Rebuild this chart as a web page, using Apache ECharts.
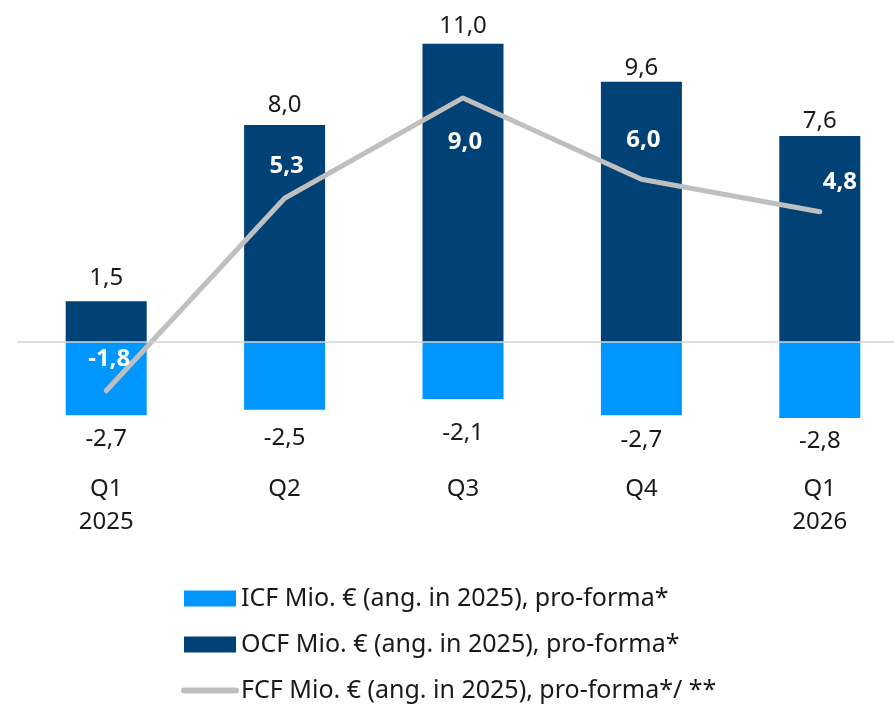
<!DOCTYPE html>
<html>
<head>
<meta charset="utf-8">
<script src="https://cdn.jsdelivr.net/npm/echarts@6/dist/echarts.min.js"></script>
<style>
  html, body { margin: 0; padding: 0; background: #fff; }
  #chart { width: 894px; height: 710px; }
</style>
</head>
<body>
<div id="chart"></div>
<script>
// quarters, two lines each
const categories = ['Q1\n2025', 'Q2', 'Q3', 'Q4', 'Q1\n2026']
const ocf = [1.5, 8.0, 11.0, 9.6, 7.6]
const icf = [-2.7, -2.5, -2.1, -2.7, -2.8]
const fcf = [-1.8, 5.3, 9.0, 6.0, 4.8]

// label placement tweaks, the source slide isn't uniform
const fcfLabelOffset = [[3, -32], [2, -32], [2, 44], [2, -39], [20, -30]]
const ocfLabelGap = [11, 8, 6, 1, 3]
const icfLabelGap = [12, 16, 22, 13, 11]

const FONT = '"Noto Sans", "Open Sans", sans-serif'
const TEXT = '#1a1a1a'
const fmt = v => v.toFixed(1).replace('.', ',')

const chart = echarts.init(document.getElementById('chart'))

chart.setOption({
    animation: false,
    textStyle: { fontFamily: FONT },
    grid: { left: 17, top: 3, right: -15, height: 461, outerBoundsMode: 'none' },
    legend: {
        orient: 'vertical',
        left: 181,
        top: 586,
        padding: 0,
        itemWidth: 52,
        itemHeight: 16,
        itemGap: 21,
        textStyle: { fontSize: 25, lineHeight: 25, color: TEXT, fontFamily: FONT },
        data: [
            { name: 'ICF Mio. € (ang. in 2025), pro-forma*', icon: 'rect' },
            { name: 'OCF Mio. € (ang. in 2025), pro-forma*', icon: 'rect' },
            {
                name: 'FCF Mio. € (ang. in 2025), pro-forma*/ **',
                itemStyle: { opacity: 0 },
                lineStyle: { width: 6, cap: 'round', color: '#bfbfbf' },
            },
        ],
    },
    xAxis: {
        type: 'category',
        data: categories,
        axisLine: { show: false, onZero: false },
        axisTick: { show: false },
        axisLabel: {
            margin: 9,
            fontSize: 24,
            lineHeight: 33,
            color: TEXT,
            fontFamily: FONT,
        },
    },
    yAxis: {
        type: 'value',
        min: -4.5,
        max: 12.5,
        show: false,
        splitLine: { show: false },
    },
    series: [
        {
            name: 'OCF Mio. € (ang. in 2025), pro-forma*',
            type: 'bar',
            data: ocf.map((v, i) => ({ value: v, label: { distance: ocfLabelGap[i] } })),
            barWidth: 81,
            barGap: '-100%',
            itemStyle: { color: '#004176' },
            label: {
                show: true,
                position: 'top',
                fontSize: 24,
                color: TEXT,
                formatter: p => fmt(p.value),
            },
            markLine: {
                silent: true,
                symbol: 'none',
                label: { show: false },
                lineStyle: { color: '#d4d4d4', width: 1.5, type: 'solid' },
                data: [{ yAxis: 0 }],
                z: 5,
            },
        },
        {
            name: 'ICF Mio. € (ang. in 2025), pro-forma*',
            type: 'bar',
            data: icf.map((v, i) => ({ value: v, label: { distance: icfLabelGap[i] } })),
            barWidth: 81,
            itemStyle: { color: '#0096ff' },
            label: {
                show: true,
                position: 'bottom',
                fontSize: 24,
                color: TEXT,
                formatter: p => fmt(p.value),
            },
        },
        {
            name: 'FCF Mio. € (ang. in 2025), pro-forma*/ **',
            type: 'line',
            data: fcf.map((v, i) => ({
                value: v,
                label: { offset: fcfLabelOffset[i] },
            })),
            symbol: 'circle',
            symbolSize: 0,
            showSymbol: true,
            lineStyle: { color: '#bfbfbf', width: 5, cap: 'round', join: 'round' },
            itemStyle: { color: '#bfbfbf' },
            z: 4,
            label: {
                show: true,
                position: 'inside',
                fontSize: 24,
                fontWeight: 'bold',
                color: '#ffffff',
                formatter: p => fmt(p.value),
            },
        },
    ],
})
</script>
</body>
</html>
